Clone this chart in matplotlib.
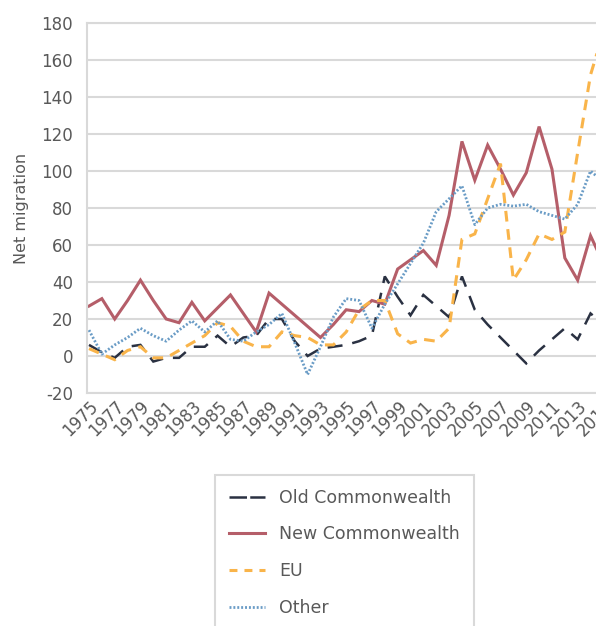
import matplotlib.pyplot as plt
from matplotlib.lines import Line2D

plt.rcParams["axes.unicode_minus"] = False

# net migration by citizenship group, 1975-2015 (thousands)
years = list(range(1975, 2016))
old_cw = [6, 2, -1, 5, 6, -3, -1, -1, 5, 5,
          11, 5, 10, 11, 20, 20, 8, 0, 4, 5,
          6, 8, 11, 43, 32, 22, 33, 27, 21, 43,
          25, 17, 10, 3, -4, 3, 9, 15, 9, 23,
          17]
new_cw = [27, 31, 20, 30, 41, 30, 20, 18, 29, 19,
          26, 33, 23, 13, 34, 28, 22, 16, 10, 17,
          25, 24, 30, 28, 47, 52, 57, 49, 76, 116,
          95, 114, 101, 87, 99, 124, 101, 53, 41, 65,
          50]
eu = [4, 1, -2, 3, 5, -1, -1, 3, 7, 11,
      18, 16, 8, 5, 5, 13, 11, 10, 6, 6,
      13, 25, 30, 30, 12, 7, 9, 8, 15, 63,
      66, 85, 104, 41, 52, 66, 63, 67, 110, 152,
      175]
other = [14, 1, 6, 10, 15, 11, 8, 14, 19, 13,
         19, 9, 8, 13, 17, 23, 7, -10, 5, 21,
         31, 30, 15, 28, 39, 50, 61, 78, 85, 92,
         71, 80, 82, 81, 82, 78, 76, 74, 82, 100,
         94]
labels = ["Old Commonwealth", "New Commonwealth", "EU", "Other"]

c_old = "#2a3142"
c_new = "#b55e69"
c_eu = "#f9b44a"
c_other = "#6a9cc6"
grey = "#d9d9d9"
txt = "#595959"

fig = plt.figure(figsize=(5.96, 6.26), dpi=100)
ax = fig.add_axes([87 / 596, 1 - 393 / 626, (603.4 - 87) / 596, 370 / 626])

ax.plot(years, old_cw, color=c_old, lw=1.8, dashes=(6, 4), dash_joinstyle="miter")
ax.plot(years, new_cw, color=c_new, lw=2.2, solid_joinstyle="miter")
ax.plot(years, eu, color=c_eu, lw=2.2, dashes=(3.5, 2.5), dash_joinstyle="miter")
ax.plot(years, other, color=c_other, lw=2.0, dashes=(0.7, 0.7))

ax.set_xlim(1974.845, 2015)
ax.set_ylim(-20, 180)
ax.set_yticks(range(-20, 181, 20))
ax.set_xticks(range(1975, 2016, 2))

ax.yaxis.grid(True, color=grey, lw=1.5)
ax.set_axisbelow(True)
for side in ["left", "bottom", "top"]:
    ax.spines[side].set_color(grey)
    ax.spines[side].set_linewidth(1.5)
ax.spines["right"].set_visible(False)

ax.tick_params(axis="y", length=0, labelsize=12, colors=txt, pad=10)
ax.tick_params(axis="x", length=0, labelsize=12, colors=txt, pad=3)
for lbl in ax.get_xticklabels():
    lbl.set_rotation(45)
    lbl.set_ha("right")
    lbl.set_va("top")
    lbl.set_rotation_mode("anchor")

ax.set_ylabel("Net migration", fontsize=11.5, color=txt)
ax.yaxis.set_label_coords((29 - 87) / 516.4, 0.5)

handles = [
    Line2D([], [], color=c_old, lw=1.8, dashes=(7, 1.3)),
    Line2D([], [], color=c_new, lw=2.2),
    Line2D([], [], color=c_eu, lw=2.2, dashes=(2.6, 2.3)),
    Line2D([], [], color=c_other, lw=2.0, dashes=(0.7, 0.7)),
]
leg = fig.legend(handles, labels, loc="upper left",
                 bbox_to_anchor=(215 / 596, 1 - 475 / 626), borderaxespad=0,
                 fancybox=False, edgecolor=grey, framealpha=1,
                 fontsize=12.5, labelcolor=txt, handlelength=2.1,
                 handletextpad=0.8, labelspacing=1.07, borderpad=0.8)
leg.get_frame().set_linewidth(1.5)

plt.savefig("out.png", dpi=100)
